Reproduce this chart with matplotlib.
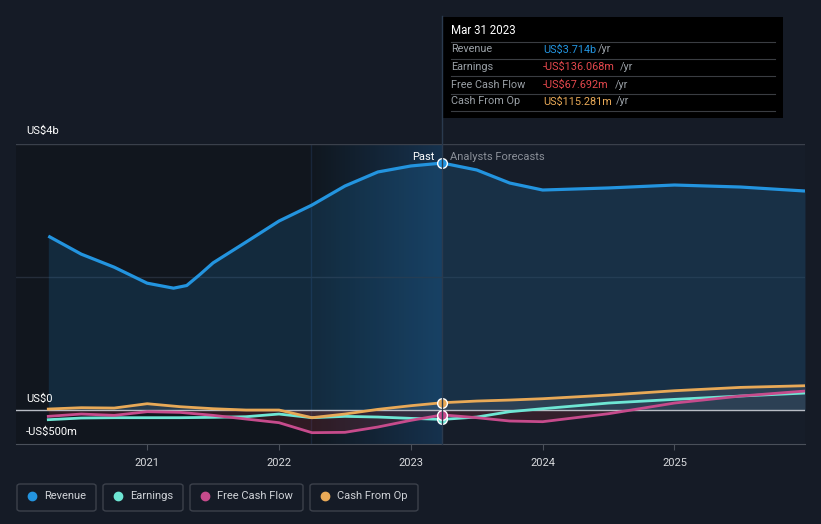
import matplotlib
matplotlib.use('Agg')
import numpy as np
import matplotlib.pyplot as plt
from matplotlib.colors import LinearSegmentedColormap
from matplotlib.patches import Rectangle, FancyBboxPatch
from matplotlib.lines import Line2D

W, H = 821, 524

# data (decimal years, US$ m)
rev_t = [2020.25, 2020.5, 2020.75, 2021.0, 2021.2, 2021.3, 2021.4, 2021.5, 2021.75, 2022.0,
         2022.25, 2022.5, 2022.75, 2023.0, 2023.24, 2023.5, 2023.75, 2024.0, 2024.5, 2025.0,
         2025.5, 2025.99]
revenue = [2617, 2346, 2150, 1910, 1835, 1875, 2040, 2215, 2527, 2843,
           3083, 3369, 3580, 3670, 3714, 3610, 3414, 3309, 3340, 3384,
           3354, 3294]

t = [2020.25, 2020.5, 2020.75, 2021.0, 2021.25, 2021.5, 2021.75, 2022.0, 2022.25,
     2022.5, 2022.75, 2023.0, 2023.24, 2023.5, 2023.75, 2024.0, 2024.5, 2025.0, 2025.5, 2025.99]
earnings = [-140, -115, -110, -110, -110, -105, -95, -55, -110,
            -90, -100, -120, -136, -100, -20, 25, 110, 165, 215, 260]
free_cash_flow = [-90, -55, -75, -20, -30, -75, -130, -185, -335,
                  -330, -250, -150, -68, -110, -160, -170, -50, 110, 215, 290]
cash_from_op = [20, 40, 35, 100, 55, 25, 5, 5, -110,
                -55, 15, 70, 115, 140, 155, 175, 230, 295, 345, 370]

year_ticks = [2021, 2022, 2023, 2024, 2025]
now = 2023.24
highlight_start = 2022.24

C_REV = '#2394df'
C_EARN = '#6ee6d4'
C_FCF = '#c64b8c'
C_CFO = '#e8a957'
BG = '#151b26'

plt.rcParams['font.family'] = ['Roboto', 'DejaVu Sans']


def px(x, y):
    return x / W, 1 - y / H


fig = plt.figure(figsize=(W / 100, H / 100), dpi=100, facecolor=BG)
ax = fig.add_axes([16 / W, (H - 444) / H, (805 - 16) / W, 300 / H])
ax.set_facecolor('#161d29')

# background regions
ax.axvspan(2020.005, highlight_start, color='#11161e', zorder=0, lw=0)
grad = LinearSegmentedColormap.from_list('hl', ['#10171f', '#16324e'])
ax.imshow(np.linspace(0, 1, 256).reshape(1, -1), cmap=grad, aspect='auto',
          extent=[highlight_start, now, -505, 4000], zorder=0.5)
ax.axvline(highlight_start, color='#18263a', lw=1, zorder=0.6)
ax.set_xlim(2020.005, 2025.99)
ax.set_ylim(-505, 4000)

# grid
ax.axhline(4000, color='#3a404b', lw=1, zorder=1)
ax.axhline(2000, color='#252d3a', lw=1, zorder=1)

# revenue
ax.fill_between(rev_t, revenue, 0, color=C_REV, alpha=0.16, lw=0, zorder=2)
ax.plot(rev_t, revenue, color=C_REV, lw=2.3, zorder=5, solid_capstyle='butt')

# small series fills
ax.fill_between(t, cash_from_op, 0, color='#8a8d95', alpha=0.18, lw=0, zorder=2)
ax.fill_between(t, free_cash_flow, 0, where=[v < 0 for v in free_cash_flow],
                interpolate=True, color='#c0303a', alpha=0.18, lw=0, zorder=2)

ax.axhline(0, color='#b8bcc4', lw=1, zorder=3)

ax.plot(t, earnings, color=C_EARN, lw=2, zorder=4)
ax.plot(t, free_cash_flow, color=C_FCF, lw=2, zorder=4)
ax.plot(t, cash_from_op, color=C_CFO, lw=2, zorder=4)

# markers at the current point
ax.plot([now], [revenue[rev_t.index(now)]], 'o', ms=7, color=C_REV, mec='white', mew=1, zorder=6)
for vals, c in [(earnings, C_EARN), (cash_from_op, C_CFO), (free_cash_flow, C_FCF)]:
    ax.plot([now], [vals[t.index(now)]], 'o', ms=7, color=c, mec='white', mew=1, zorder=6)

ax.text(now - 0.06, 3800, 'Past', color='white', fontsize=8, ha='right', va='center', zorder=7)
ax.text(now + 0.06, 3800, 'Analysts Forecasts', color='#8a8f98', fontsize=8,
        ha='left', va='center', zorder=7)

for s in ['top', 'right', 'left']:
    ax.spines[s].set_visible(False)
ax.spines['bottom'].set_color('#4a505a')
ax.set_yticks([])
ax.set_xticks(year_ticks)
ax.set_xticklabels([str(y) for y in year_ticks])
ax.tick_params(axis='x', colors='#4a505a', length=4, labelcolor='#d8dadd', labelsize=8, pad=6)

# cursor line
fig.add_artist(Line2D([442 / W, 442 / W], [1 - 444 / H, 1 - 16 / H], color='#2a3a4e', lw=1))

# y labels
for label, y in [('US$4b', 131), ('US$0', 399), ('-US$500m', 432)]:
    fig.text(*px(26, y), label, color='white', fontsize=8, va='center', ha='left')

# tooltip
fig.add_artist(Rectangle(px(443, 118), 340 / W, 101 / H, transform=fig.transFigure,
                         facecolor='black', edgecolor='none'))
fig.text(*px(451, 31), 'Mar 31 2023', color='white', fontsize=8.3, va='center')
for y in [41.5, 58.5, 76, 93.5, 111]:
    fig.add_artist(Line2D([451 / W, 775 / W], [1 - y / H, 1 - y / H], color='#3a3d42', lw=0.8))
rows = [('Revenue', 'US$3.714b', C_REV, 49.5, 598),
        ('Earnings', '-US$136.068m', '#e5484d', 67, 620),
        ('Free Cash Flow', '-US$67.692m', '#e5484d', 84.5, 615),
        ('Cash From Op', 'US$115.281m', C_CFO, 101.5, 616)]
for name, val, c, y, xyr in rows:
    fig.text(*px(451, y), name, color='#9aa0a6', fontsize=7.8, va='center')
    fig.text(*px(543, y), val, color=c, fontsize=7.8, va='center')
    fig.text(*px(xyr, y), '/yr', color='#9aa0a6', fontsize=7.8, va='center')

# legend
legend = [('Revenue', C_REV, 16, 97), ('Earnings', C_EARN, 102, 184),
          ('Free Cash Flow', C_FCF, 189, 304), ('Cash From Op', C_CFO, 309, 419)]
for name, c, x0, x1 in legend:
    fig.add_artist(FancyBboxPatch(px(x0 + 1, 511), (x1 - x0 - 2) / W, 27 / H,
                                  boxstyle='round,pad=0,rounding_size=0.004',
                                  transform=fig.transFigure, facecolor='none',
                                  edgecolor='#3c414b', lw=1))
    fig.add_artist(Line2D([(x0 + 16) / W], [1 - 496 / H], marker='o', ms=6, color=c, lw=0))
    fig.text(*px(x0 + 28, 496), name, color='#d0d3d8', fontsize=8, va='center')

fig.savefig('out.png', dpi=100, facecolor=BG)
